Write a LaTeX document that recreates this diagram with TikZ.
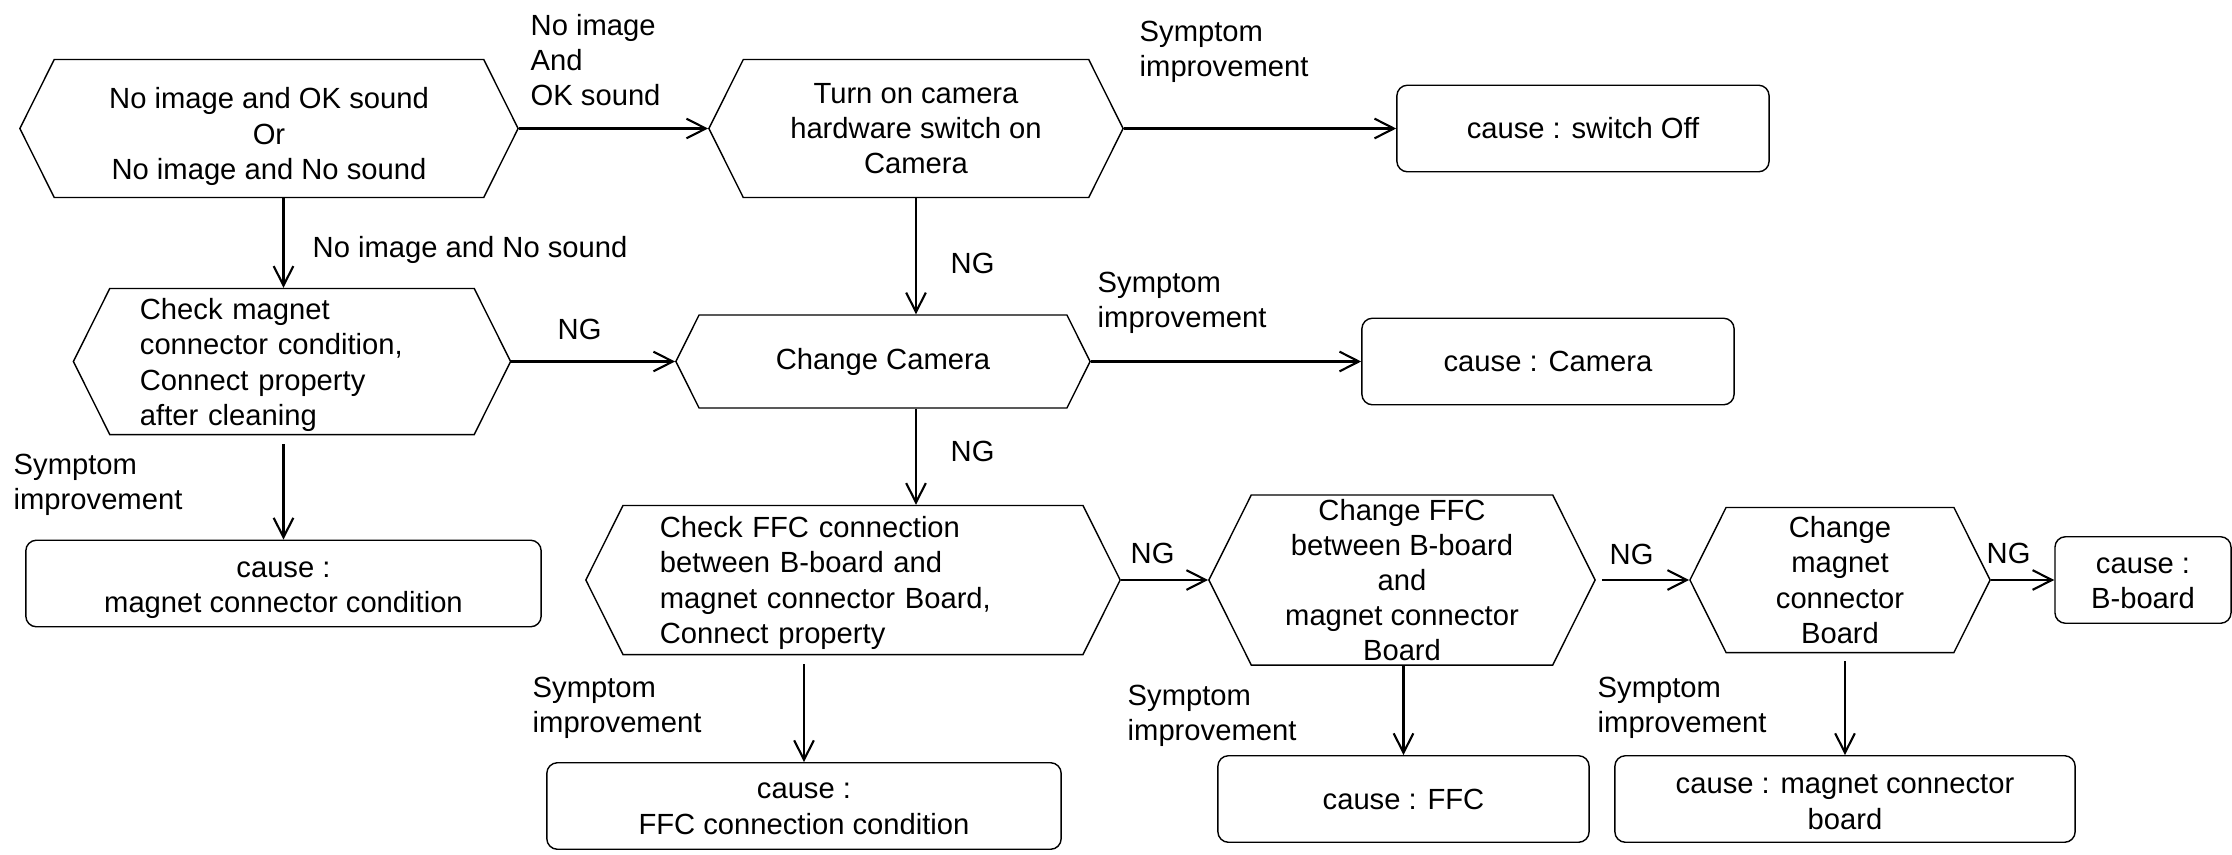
\documentclass[tikz,border=0pt]{standalone}
\usepackage{fontspec}
\setmainfont{Liberation Sans}
\usetikzlibrary{arrows.meta,shapes.symbols,positioning}

\begin{document}
\begin{tikzpicture}[x=0.01cm, y=-0.01cm,
    font=\fontsize{8.3}{10}\selectfont,
    hexa/.style={signal, signal to=west and east, signal pointer angle=127, draw, line width=0.4pt, align=center, inner xsep=2pt, inner ysep=0pt},
    cause/.style={draw, line width=0.4pt, rounded corners=3pt, align=center, inner ysep=0pt, minimum height=0.865cm},
    lbl/.style={anchor=west, align=left, inner sep=0pt},
    arr/.style={-{Straight Barb[length=5.5pt, width=5.6pt]}, line width=0.6pt}
]
\useasboundingbox (0,0) rectangle (2232,854);

% check / action steps
\node[hexa, minimum width=4.98cm, minimum height=1.38cm] (start) at (269,128.5) {\rule{0pt}{10.6pt}No image and OK sound\\Or\\No image and No sound};
\node[hexa, minimum width=4.14cm, minimum height=1.38cm] (hwsw) at (916,128.5) {Turn on camera\\hardware switch on\\Camera};
\node[hexa, minimum width=4.37cm, minimum height=1.46cm, text width=3.04cm, align=left] (magchk) at (292,361.5) {\rule{0pt}{8pt}Check magnet\\connector condition,\\Connect property\\after cleaning};
\node[hexa, minimum width=4.14cm, minimum height=0.93cm] (chgcam) at (883,361.5) {Change Camera};
\node[hexa, minimum width=5.34cm, minimum height=1.49cm, text width=3.86cm, align=left] (ffcchk) at (853,580) {\rule{0pt}{7.7pt}Check FFC connection\\between B-board and\\magnet connector Board,\\Connect property};
\node[hexa, minimum width=3.86cm, minimum height=1.70cm] (chgffc) at (1402,580) {Change FFC\\between B-board\\and\\magnet connector\\Board};
\node[hexa, minimum width=3.00cm, minimum height=1.45cm] (chgmag) at (1840,580) {Change\\magnet\\connector\\Board};

% causes
\node[cause, minimum width=3.72cm] (cOff) at (1583,128.5) {cause : switch Off};
\node[cause, minimum width=3.72cm] (cCam) at (1548,361.5) {cause : Camera};
\node[cause, minimum width=5.15cm] (cMag) at (283.5,583.5) {\rule{0pt}{8.3pt}cause :\\magnet connector condition};
\node[cause, minimum width=5.14cm] (cFfcCond) at (804,806) {\rule{0pt}{6pt}cause :\\FFC connection condition};
\node[cause, minimum width=4.60cm] (cMagBoard) at (1845,799) {\rule{0pt}{7.2pt}cause : magnet connector\\board};
\node[cause, minimum width=3.71cm] (cFfc) at (1403.5,799) {cause : FFC};
\node[cause, minimum width=1.76cm] (cBboard) at (2143,580) {\rule{0pt}{6.5pt}cause :\\B-board};

% labels
\node[lbl] (lOK) at (530,60) {No image\\And\\OK sound};
\node[lbl] (lNoSnd) at (312,250) {No image and No sound};
\node[lbl] (lSymOff) at (1139,52) {Symptom\\improvement};
\node[lbl] (lNGa) at (950,263) {NG};
\node[lbl] (lNGb) at (557,329) {NG};
\node[lbl] (lSymCam) at (1097,303) {Symptom\\improvement};
\node[lbl] (lSymMag) at (13,485) {Symptom\\improvement};
\node[lbl] (lNGc) at (950,451) {NG};
\node[lbl] (lNGd) at (1130,553) {NG};
\node[lbl] (lNGe) at (1609,554) {NG};
\node[lbl] (lNGf) at (1986,553) {NG};
\node[lbl] (lSymFfcc) at (532,708) {Symptom\\improvement};
\node[lbl] (lSymFfc) at (1127,716) {Symptom\\improvement};
\node[lbl] (lSymMb) at (1597,708) {Symptom\\improvement};

\draw[arr] (start.east) -- (hwsw.west);
\draw[arr] (hwsw.east) -- (cOff.west);
\draw[arr] (start.south -| cMag.north) -- (magchk.north -| cMag.north);
\draw[arr, shorten <=0.09cm] (magchk.south -| cMag.north) -- (cMag.north);
\draw[arr] (magchk.east) -- (chgcam.west);
\draw[arr] (chgcam.east) -- (cCam.west);
\draw[arr] (hwsw.south) -- (hwsw.south |- chgcam.north);
\draw[arr] (chgcam.south -| hwsw.south) -- (ffcchk.north -| hwsw.south);
\draw[arr, shorten <=0.09cm] (ffcchk.south -| cFfcCond.north) -- (cFfcCond.north);
\draw[arr] (ffcchk.east) -- (chgffc.west);
\draw[arr] (chgffc.south -| cFfc.north) -- (cFfc.north);
\draw[arr, shorten <=0.06cm] (chgffc.east) -- (chgmag.west);
\draw[arr, shorten <=0.08cm] (chgmag.south -| cMagBoard.north) -- (cMagBoard.north);
\draw[arr] (chgmag.east) -- (cBboard.west);
\end{tikzpicture}
\end{document}
